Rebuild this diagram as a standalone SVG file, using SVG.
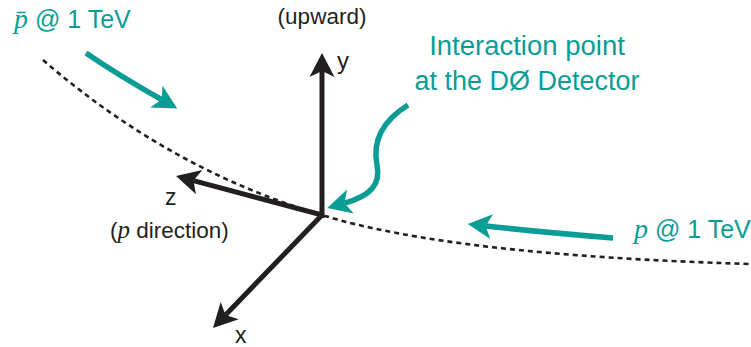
<svg xmlns="http://www.w3.org/2000/svg" width="751" height="347" viewBox="0 0 751 347">
  <style>
    .beam { fill: none; stroke: #231f20; stroke-width: 2.6; stroke-dasharray: 5 4; }
    .axis { fill: none; stroke: #231f20; stroke-width: 5; stroke-linejoin: miter; }
    .flow { fill: none; stroke: #0a9d96; stroke-width: 5.5; stroke-linecap: butt; }
    .lbl { font-family: "Liberation Sans", Arial, sans-serif; fill: #231f20; }
    .tl { font-family: "Liberation Sans", Arial, sans-serif; fill: #0a9d96; }
    .math { font-family: "Liberation Serif", "Times New Roman", serif; font-style: italic; }
  </style>
  <defs>
    <marker id="head-black" viewBox="0 -14 26 28" markerWidth="26" markerHeight="28" refX="6" refY="0" markerUnits="userSpaceOnUse" orient="auto-start-reverse">
      <path d="M0,-12.5 L24,0 L0,12.5 L6,0 Z" fill="#231f20"/>
    </marker>
    <marker id="head-teal" viewBox="0 -14 26 28" markerWidth="26" markerHeight="28" refX="6" refY="0" markerUnits="userSpaceOnUse" orient="auto">
      <path d="M0,-12.5 L24,0 L0,12.5 L6,0 Z" fill="#0a9d96"/>
    </marker>
  </defs>

  <!-- beam line through the interaction point -->
  <g id="beamline">
    <path class="beam" d="M43,60 Q170,170 322,215 Q450,255 750,264"/>
  </g>

  <!-- coordinate axes -->
  <g id="axes">
    <path class="axis" d="M193.4,180.6 L322,215 L322,71" marker-start="url(#head-black)" marker-end="url(#head-black)"/>
    <path class="axis" d="M322,215 L225.5,315" marker-end="url(#head-black)"/>
  </g>

  <!-- incoming beams and pointer -->
  <g id="connectors">
    <path class="flow" d="M86,53 Q118,75 161.6,99.6" marker-end="url(#head-teal)"/>
    <path class="flow" d="M613,238 Q540,232 485.7,226" marker-end="url(#head-teal)"/>
    <path class="flow" d="M408,105 C384,120 372,140 377,165 C381,185 370,196 344.6,203.2" marker-end="url(#head-teal)"/>
  </g>

  <g id="label-y">
    <text class="lbl" x="322" y="24" font-size="22.5" text-anchor="middle">(upward)</text>
    <text class="lbl" x="337" y="69" font-size="24">y</text>
  </g>
  <g id="label-z">
    <text class="lbl" x="165" y="205" font-size="23">z</text>
    <text class="lbl" x="110" y="238" font-size="22.5">(<tspan class="math" font-size="25">p</tspan> direction)</text>
  </g>
  <g id="label-x">
    <text class="lbl" x="235" y="343" font-size="23">x</text>
  </g>
  <g id="label-pbar">
    <text class="tl" x="14" y="28" font-size="25"><tspan class="math" font-size="28">p̄</tspan> @ 1 TeV</text>
  </g>
  <g id="label-p">
    <text class="tl" x="634" y="238" font-size="25"><tspan class="math" font-size="28">p</tspan> @ 1 TeV</text>
  </g>
  <g id="label-ip">
    <text class="tl" x="527" y="55" font-size="27.5" text-anchor="middle">Interaction point</text>
    <text class="tl" x="527" y="90" font-size="27" text-anchor="middle">at the DØ Detector</text>
  </g>
</svg>
